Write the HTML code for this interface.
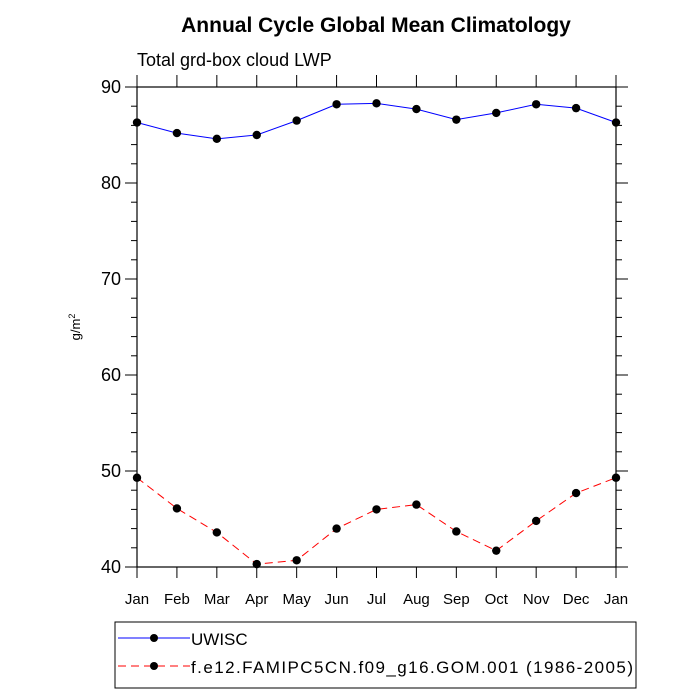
<!DOCTYPE html>
<html><head><meta charset="utf-8"><style>body{margin:0;background:#fff}svg{display:block;font-family:"Liberation Sans",sans-serif}</style></head>
<body>
<svg id="chart" width="700" height="700">
<text x="376" y="32" text-anchor="middle" font-size="21" font-weight="bold">Annual Cycle Global Mean Climatology</text>
<text x="137" y="66" font-size="18">Total grd-box cloud LWP</text>
<text transform="translate(80,327) rotate(-90)" text-anchor="middle" font-size="13">g/m<tspan dy="-5" font-size="9">2</tspan></text>
<g id="axes"></g>
<g id="series"></g>
<rect x="115" y="622" width="521" height="66" fill="none" stroke="#000" stroke-width="1"/>
<g>
<line x1="118" y1="638" x2="190" y2="638" stroke="#00f" stroke-width="1"/><circle cx="154" cy="638" r="4" fill="#000"/>
<text x="191" y="645" font-size="17">UWISC</text></g>
<g>
<line x1="118" y1="666" x2="190" y2="666" stroke="#f00" stroke-width="1" stroke-dasharray="8,5"/><circle cx="154" cy="666" r="4" fill="#000"/>
<text x="191" y="673" font-size="17" textLength="442" lengthAdjust="spacing">f.e12.FAMIPC5CN.f09_g16.GOM.001 (1986-2005)</text></g>
</svg>
<script>
const months=["Jan","Feb","Mar","Apr","May","Jun","Jul","Aug","Sep","Oct","Nov","Dec","Jan"];
const uwisc=[86.3,85.2,84.6,85.0,86.5,88.2,88.3,87.7,86.6,87.3,88.2,87.8,86.3];
const model=[49.3,46.1,43.6,40.3,40.7,44.0,46.0,46.5,43.7,41.7,44.8,47.7,49.3];
const yTicks=[40,50,60,70,80,90];
const NS="http://www.w3.org/2000/svg";
const L=137,R=616,T=87,B=567,ymin=40,ymax=90;
const xs=i=>L+(R-L)*i/(months.length-1);
const ys=v=>B-(v-ymin)/(ymax-ymin)*(B-T);
function mk(tag,attrs,parent){const e=document.createElementNS(NS,tag);for(const k in attrs)e.setAttribute(k,attrs[k]);parent.appendChild(e);return e;}
const ax=document.getElementById('axes');
const fr=mk('rect',{x:L,y:T,width:R-L,height:B-T,fill:'none',stroke:'#000','stroke-width':1.2},ax);


for(let v=ymin;v<=ymax;v+=2){const y=ys(v);const maj=v%10===0;const len=maj?12:6;
mk('line',{x1:L-len,x2:L,y1:y,y2:y,stroke:'#000','stroke-width':1},ax);
mk('line',{x1:R,x2:R+len,y1:y,y2:y,stroke:'#000','stroke-width':1},ax);}
yTicks.forEach(v=>{const t=mk('text',{x:L-16,y:ys(v)+6,'text-anchor':'end','font-size':18},ax);t.textContent=v;

});
months.forEach((m,i)=>{const x=xs(i);
mk('line',{x1:x,x2:x,y1:B,y2:B+11,stroke:'#000','stroke-width':1},ax);
mk('line',{x1:x,x2:x,y1:T,y2:T-12,stroke:'#000','stroke-width':1},ax);
const t=mk('text',{x:x,y:B+37,'text-anchor':'middle','font-size':15},ax);t.textContent=m;

});
const sg=document.getElementById('series');
function series(data,color,dash,name){
const p=mk('polyline',{points:data.map((v,i)=>xs(i)+','+ys(v)).join(' '),fill:'none',stroke:color,'stroke-width':1,'stroke-dasharray':dash},sg);


data.forEach((v,i)=>{const c=mk('circle',{cx:xs(i),cy:ys(v),r:4.2,fill:'#000'},sg);

});}
series(uwisc,'#00f','none','uwisc');
series(model,'#f00','8,5','model');
</script>
</body></html>
